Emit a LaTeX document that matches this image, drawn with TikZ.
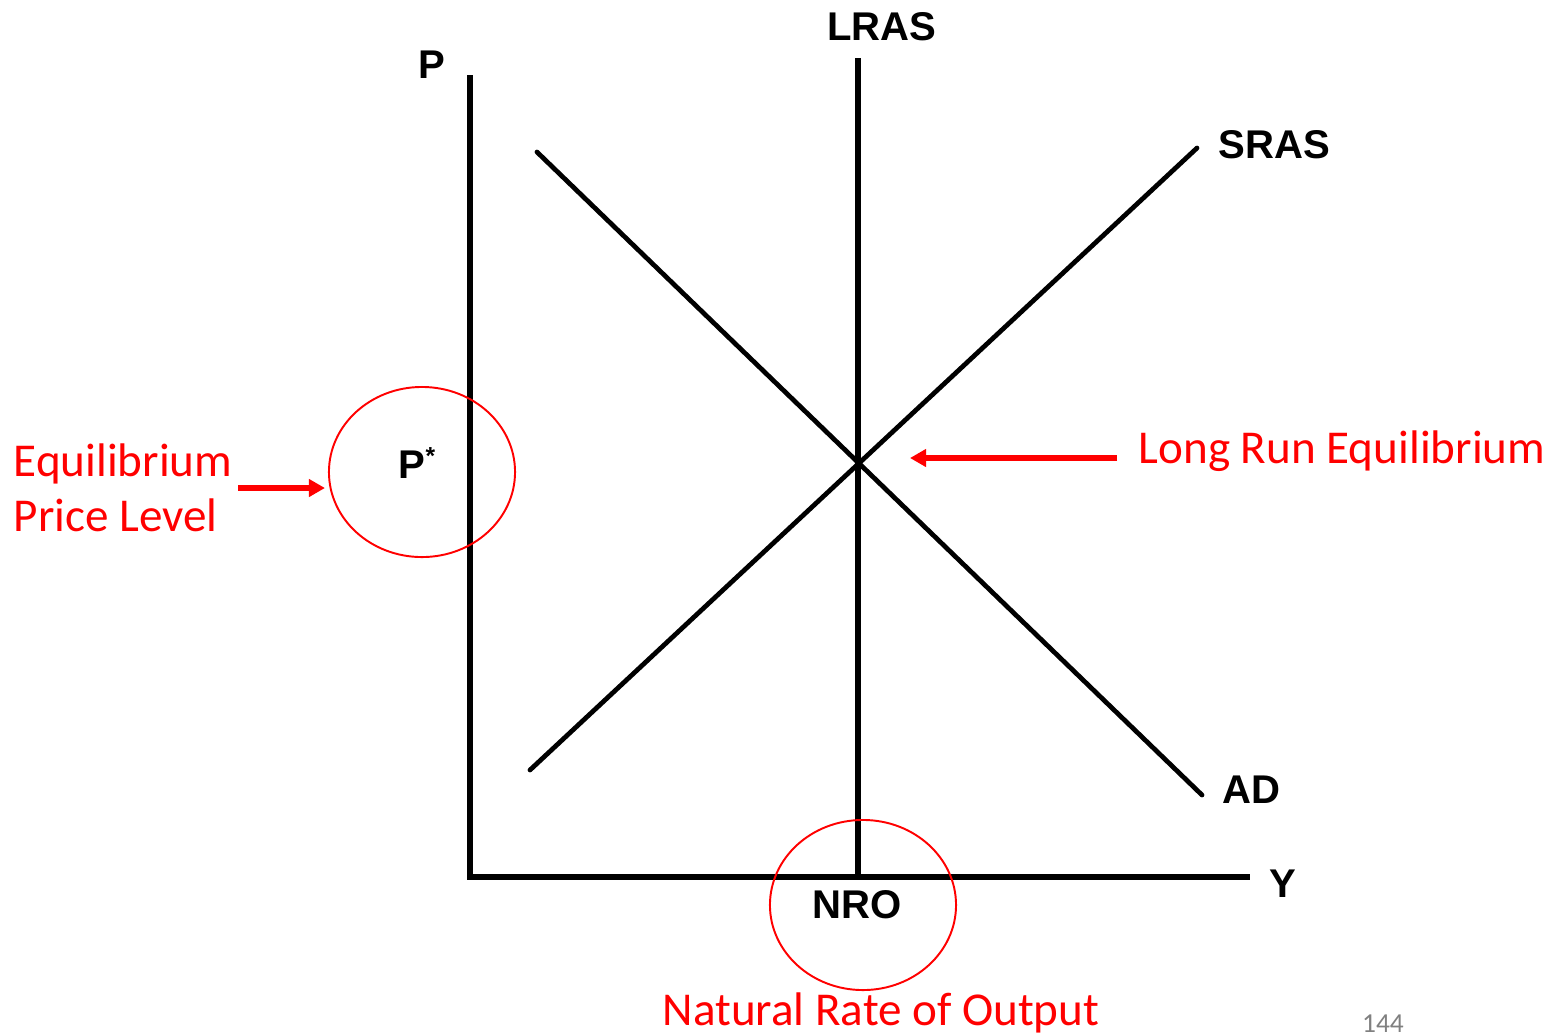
\documentclass[tikz,border=0pt]{standalone}
\usepackage{fontspec}
\setmainfont{Liberation Sans}
\newfontfamily\notefont{Carlito}
\usetikzlibrary{arrows.meta,calc,positioning,shapes.geometric}
\definecolor{notered}{RGB}{255,0,0}
\definecolor{pagegray}{RGB}{128,128,128}

\begin{document}
\begin{tikzpicture}[x=0.01cm, y=-0.01cm,
  every node/.style={font=\fontsize{11.4}{13}\selectfont\bfseries, inner sep=0pt},
  axis/.style={line width=1.7pt},
  curve/.style={line width=1.35pt, line cap=round},
  note/.style={font=\notefont\fontsize{13.4}{15.6}\selectfont, text=notered, align=left},
  ring/.style={draw=notered, ellipse, line width=0.55pt, minimum width=1.86cm, minimum height=1.70cm},
  redarrow/.style={draw=notered, line width=1.55pt, -{Triangle[length=1.6mm, width=1.7mm]}}]
  \useasboundingbox (0,0) rectangle (1565,1035);
  % axes
  \coordinate (O) at (470,877);
  \coordinate (E) at (858,463);
  \draw[axis] (470,75) -- (O) -- (1250,877);
  \node (plabel) at (432,65) {P};
  \node (ylabel) at (1283,884) {Y};
  % curves
  \draw[axis] (858,58) -- (858,877);
  \draw[curve] (537,152) -- (1202,795);
  \draw[curve] (530,770) -- (1197,148);
  \node (lras) at (882,27) {LRAS};
  \node[anchor=west] (sras) at (1218,145) {SRAS};
  \node[anchor=west] (ad) at (1222,790) {AD};
  \node (pstar) at (418,463) {P\textsuperscript{\scriptsize *}};
  \node (nro) at (857,905) {NRO};
  % notes
  \node[ring] (pring) at (422,472) {};
  \node[ring] (nring) at (863,905) {};
  \node[note, anchor=west] (eqprice) at (13,488) {Equilibrium\\Price Level};
  \draw[redarrow] ([xshift=0.05cm]eqprice.east) -- ([xshift=-0.03cm]eqprice.east -| pring.west);
  \node[note, anchor=base west] (lrtext) at (1138,463) {Long Run Equilibrium};
  \coordinate (lrtip) at (910,458);
  \draw[redarrow] (lrtext.west |- lrtip) ++(-21,0) -- (lrtip);
  \node[note, anchor=base] (nrotext) at (881,1025) {Natural Rate of Output};
  \node[font=\notefont\fontsize{7.8}{9}\selectfont, text=pagegray, anchor=base] (pagenum) at (1383,1032) {144};
\end{tikzpicture}
\end{document}
